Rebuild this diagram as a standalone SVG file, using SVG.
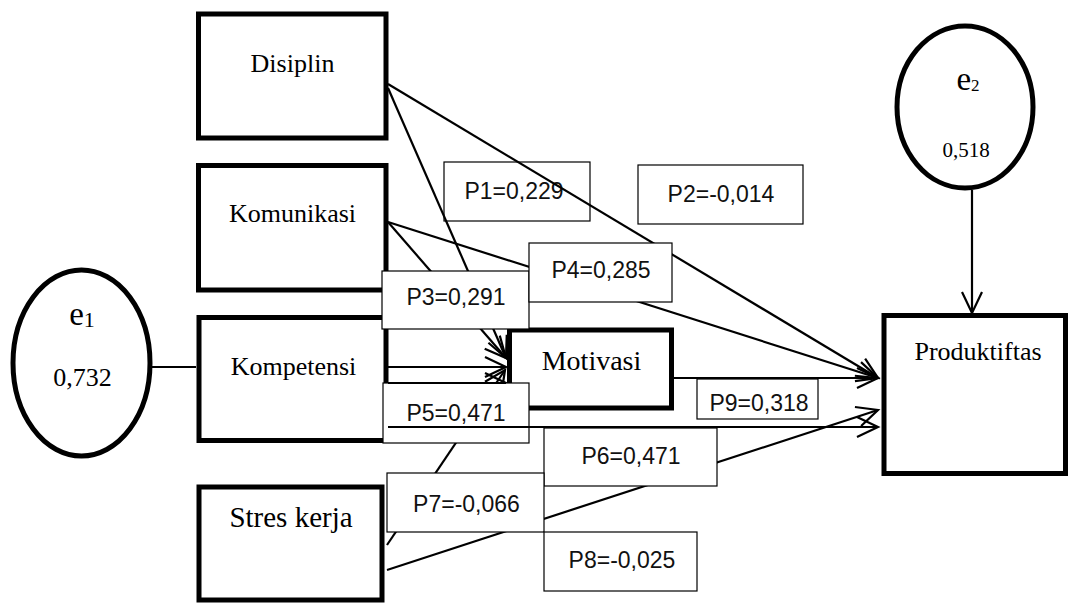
<svg xmlns="http://www.w3.org/2000/svg" width="1068" height="603" viewBox="0 0 1068 603">
<style>
.node{fill:#fff;stroke:#000;stroke-width:5}
.ell{fill:#fff;stroke:#000;stroke-width:5}
.lbl{fill:#fff;stroke:#000;stroke-width:1.2}
.ser{font-family:"Liberation Serif","Times New Roman",serif;fill:#000;text-anchor:middle}
.san{font-family:"Liberation Sans",Arial,sans-serif;fill:#111;text-anchor:middle;font-size:23px}
.ln{stroke:#000;stroke-width:2.2;fill:none}
.arr{marker-end:url(#ah)}
</style>
<defs>
<marker id="ah" markerUnits="userSpaceOnUse" viewBox="-24 -14 26 28" refX="0" refY="0" markerWidth="26" markerHeight="28" orient="auto" overflow="visible">
<path d="M-21,-10 L0,0 L-21,10" fill="none" stroke="#000" stroke-width="2.2"/>
</marker>
</defs>
<rect width="1068" height="603" fill="#fff"/>

<g id="disiplin"><rect class="node" x="198.5" y="14" width="187.5" height="124"/><text class="ser" x="292.5" y="72" font-size="26">Disiplin</text></g>
<g id="komunikasi"><rect class="node" x="198.5" y="165.5" width="187.5" height="124.5"/><text class="ser" x="292.5" y="222" font-size="26">Komunikasi</text></g>
<g id="kompetensi"><rect class="node" x="199" y="317.5" width="187" height="123"/><text class="ser" x="293.5" y="375" font-size="26">Kompetensi</text></g>
<g id="stres"><rect class="node" x="199" y="487" width="183" height="113"/><text class="ser" x="291" y="527" font-size="29">Stres kerja</text></g>
<g id="e1"><ellipse class="ell" cx="81.5" cy="363" rx="68.5" ry="93"/><text class="ser" x="82" y="325" font-size="33">e<tspan font-size="22" dy="2">1</tspan></text><text class="ser" x="82.5" y="386" font-size="26">0,732</text></g>
<g id="e2"><ellipse class="ell" cx="965" cy="107" rx="68" ry="81"/><text class="ser" x="968" y="90" font-size="33">e<tspan font-size="17" dy="1">2</tspan></text><text class="ser" x="966" y="157" font-size="21">0,518</text></g>
<g id="motivasi"><rect class="node" x="509.5" y="330" width="162" height="78"/><text class="ser" x="591.5" y="370" font-size="28">Motivasi</text></g>
<g id="produktiftas"><rect class="node" x="884" y="315.5" width="181.5" height="158"/><text class="ser" x="978" y="360" font-size="26">Produktiftas</text></g>

<g id="label-p1"><rect class="lbl" x="444" y="162" width="146" height="59"/><text class="san" x="514" y="199">P1=0,229</text></g>

<g id="connectors">
<line class="ln" x1="152" y1="367" x2="196" y2="367"/>
<line class="ln arr" x1="972" y1="190" x2="972" y2="313"/>
<line class="ln arr" x1="388" y1="84" x2="878" y2="378"/>
<line class="ln arr" x1="388" y1="88" x2="506" y2="358"/>
<line class="ln arr" x1="388" y1="222" x2="506" y2="358"/>
<line class="ln arr" x1="388" y1="222" x2="878" y2="378"/>
<line class="ln arr" x1="388" y1="367" x2="506" y2="367"/>
<line class="ln arr" x1="388" y1="383" x2="506" y2="383"/>
<line class="ln arr" x1="387" y1="545" x2="505" y2="370"/>
<line class="ln arr" x1="387" y1="570" x2="878" y2="410"/>
<line class="ln arr" x1="674" y1="378" x2="878" y2="378"/>
</g>

<g id="labels">
<g id="label-p2"><rect class="lbl" x="638" y="165" width="165" height="59"/><text class="san" x="721" y="202">P2=-0,014</text></g>
<g id="label-p3"><rect class="lbl" x="382" y="271" width="147" height="58"/><text class="san" x="456" y="305">P3=0,291</text></g>
<g id="label-p4"><rect class="lbl" x="529" y="243" width="143" height="59"/><text class="san" x="601" y="278">P4=0,285</text></g>
<g id="label-p5"><rect class="lbl" x="383" y="383" width="146" height="60"/><text class="san" x="456" y="421">P5=0,471</text></g>
<g id="label-p6"><rect class="lbl" x="544" y="428" width="173" height="58"/><text class="san" x="631" y="464">P6=0,471</text></g>
<g id="label-p7"><rect class="lbl" x="387" y="473" width="157" height="59"/><text class="san" x="466.5" y="512">P7=-0,066</text></g>
<g id="label-p8"><rect class="lbl" x="544" y="532" width="153" height="59"/><text class="san" x="622" y="568">P8=-0,025</text></g>
<g id="label-p9"><rect class="lbl" x="697" y="379" width="121" height="40"/><text class="san" x="759" y="411" font-size="18">P9=0,318</text></g>
</g>

<g id="connectors-over">
<line class="ln" x1="388" y1="383" x2="506" y2="383"/>
<line class="ln arr" x1="388" y1="427" x2="878" y2="427"/>
</g>
</svg>
